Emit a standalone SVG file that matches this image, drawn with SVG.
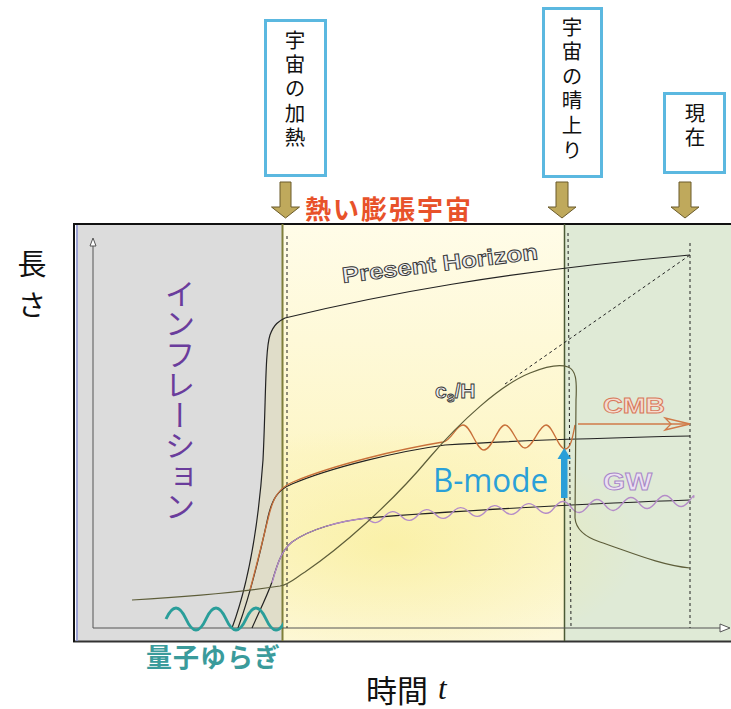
<svg xmlns="http://www.w3.org/2000/svg" width="731" height="709" viewBox="0 0 731 709">
<defs>
<style>
.box{fill:#fff;stroke:#5bb8e0;stroke-width:3}
.bt{font-family:"Noto Sans CJK JP",sans-serif;font-size:20.5px;fill:#111;writing-mode:vertical-rl}
.darr{fill:#bfa95c;stroke:#6b5b2a;stroke-width:1}
.curve{fill:none;stroke:#222;stroke-width:1.2}
.dash{fill:none;stroke:#222;stroke-width:1;stroke-dasharray:3 3}
.ol{font-family:"Liberation Sans",Arial,sans-serif;font-weight:bold;stroke-width:0.9}
.jp{font-family:"Noto Sans CJK JP",sans-serif}
</style>
<linearGradient id="yel" x1="0" y1="0" x2="0" y2="1">
<stop offset="0" stop-color="#fffce8"/>
<stop offset="0.55" stop-color="#fdf6c8"/>
<stop offset="1" stop-color="#fdf8da"/>
</linearGradient>
<radialGradient id="glow">
<stop offset="0" stop-color="#f7ea80" stop-opacity="0.5"/>
<stop offset="1" stop-color="#f7ea80" stop-opacity="0"/>
</radialGradient>
<clipPath id="rightclip"><rect x="283" y="225" width="448" height="416"/></clipPath>
<clipPath id="greyclip"><rect x="76" y="225" width="207" height="416"/></clipPath>
</defs>

<g id="background">
<rect x="76" y="225" width="206" height="416" fill="#dcdcdc"/>
<rect x="282" y="225" width="282" height="416" fill="url(#yel)"/>
<rect x="564" y="225" width="167" height="416" fill="#dfead6"/>
<ellipse cx="390" cy="545" rx="250" ry="120" fill="url(#glow)" clip-path="url(#rightclip)"/>
<path d="M232,628 C248,585 258,530 263,460 C266,400 265,350 270,335 C274,324 279,321 285,318 L285,628 Z" fill="#f2e58a" fill-opacity="0.22" clip-path="url(#greyclip)"/>
<line x1="73" y1="224" x2="731" y2="224" stroke="#111" stroke-width="2"/>
<line x1="73" y1="641.5" x2="731" y2="641.5" stroke="#333" stroke-width="2"/>
<line x1="74" y1="223" x2="74" y2="642" stroke="#111" stroke-width="2"/>
<line x1="77" y1="225" x2="77" y2="641" stroke="#8890d0" stroke-width="1.5"/>
<line x1="282.5" y1="224" x2="282.5" y2="641" stroke="#7f7f3a" stroke-width="2"/>
<line x1="564.5" y1="224" x2="564.5" y2="641" stroke="#4b5a35" stroke-width="1.5"/>
</g>

<g id="axes" fill="#fff" stroke="#555" stroke-width="1">
<line x1="93" y1="628" x2="93" y2="246"/>
<polygon points="93,238 96,246 90,246"/>
<line x1="93" y1="628" x2="721" y2="628"/>
<polygon points="730,628 720,624 720,632"/>
</g>

<g id="connectors">
<path class="dash" d="M287,236 V628"/>
<path class="dash" d="M568,233 L571,628"/>
<path class="dash" d="M690,243 V628"/>
<path class="dash" d="M505,384 L690,255"/>
<path class="curve" d="M232,628 C248,585 258,530 263,460 C266,400 265,350 270,335 C274,324 279,321 285,318 C380,295 500,272 690,255"/>
<path class="curve" d="M238,628 C250,595 262,545 268,517 C272,500 277,490 292,484 C332,467 400,451 445,445 C520,440 600,438 690,436"/>
<path fill="none" stroke="#c8703a" stroke-width="1.3" d="M250,590 C258,560 264,535 269,515 C273,499 278,488 293,482 C333,465 400,449 443,442 C452,440 456,425 463,425 C471,425 476,450 484,450 C492,450 498,425 505,425 C512,425 518,448 525,448 C533,448 539,425 546,425 C553,425 558,449 565,449 C571,449 573,435 575,425"/>
<g id="cmb-arrow" fill="none" stroke="#d07a48" stroke-width="1.3">
<line x1="578" y1="424" x2="688" y2="424"/>
<polygon points="690,424 665,418 671,424 665,430"/>
</g>
<path class="curve" d="M252,628 C260,610 267,596 272,582 C277,565 281,551 292,542 C310,529 340,521 367,518 C450,511 600,503 690,500"/>
<path fill="none" stroke="#b48cc8" stroke-width="1.3" d="M272,583 C277,565 281,551 292,542 C310,529 340,521 367,518 C373,524.5 378,524 384,517 S395,510 401,516 S412,522 418,515 S429,508 435,514 S446,520 452,513 S463,506 469,512 S480,518 486,511 S497,504 503,510 S514,516 520,509 S531,502 537,508 S548,516 554,508 S565,499 571,507 S582,514 588,506 S599,497 605,505 S616,512 622,504 S633,495 639,503 S650,510 656,502 S667,493 673,501 S684,508 690,500 S693,497 694,498"/>
<path fill="none" stroke="#5e5e3a" stroke-width="1.2" d="M132,600 C200,596 255,590 280,586 C290,584 295,578 305,572 C340,548 390,505 430,457 C460,422 500,385 530,373 C545,367 560,364 568,367 C576,370 577,380 576,400 L575,518 C576,530 585,537 600,542 C630,552 660,565 690,568"/>
<path fill="none" stroke="#2a9e9a" stroke-width="3" clip-path="url(#greyclip)" d="M166,619 C172.7,604.3 179.3,604.3 186,619 S199.3,633.7 206,619 S219.3,604.3 226,619 S239.3,633.7 246,619 S259.3,604.3 266,619 S279.3,633.7 286,619"/>
<g id="bmode-arrow" fill="#2a9fd8">
<rect x="561" y="456" width="6.5" height="42"/>
<polygon points="564.2,448 571,459 557.5,459"/>
</g>
<g id="event-arrows" class="darr">
<polygon points="280,182 291,182 291,207 299.5,207 285.5,218 271.5,207 280,207"/>
<polygon points="556,182 568,182 568,207 576,207 562,218 548,207 556,207"/>
<polygon points="679,182 691,182 691,207 699,207 685,218 671,207 679,207"/>
</g>
</g>

<g id="box-heating">
<rect class="box" x="265.5" y="20.5" width="60" height="155"/>
<text class="bt" x="295" y="29.5" letter-spacing="3.9">宇宙の加熱</text>
</g>
<g id="box-recombination">
<rect class="box" x="543.5" y="8.5" width="58" height="168"/>
<text class="bt" x="572" y="16.5" letter-spacing="4.1">宇宙の晴上り</text>
</g>
<g id="box-present">
<rect class="box" x="664.5" y="93.5" width="60" height="79"/>
<text class="bt" x="695" y="102.5" letter-spacing="3.5">現在</text>
</g>

<g id="labels">
<text class="jp" x="305" y="207" font-size="26" font-weight="bold" fill="#e8522a" letter-spacing="2" dominant-baseline="central">熱い膨張宇宙</text>
<text class="jp" x="32" y="249" font-size="29" fill="#111" letter-spacing="12" style="writing-mode:vertical-rl">長さ</text>
<text class="jp" x="366" y="688" font-size="31" fill="#111" dominant-baseline="central">時間<tspan font-family="Liberation Serif,serif" font-style="italic" dx="10">t</tspan></text>
<text class="jp" x="146" y="655" font-size="26" font-weight="bold" fill="#3a9b9b" letter-spacing="1" dominant-baseline="central">量子ゆらぎ</text>
<text class="jp" x="180" y="278" font-size="30.5" fill="#6a3c9c" style="writing-mode:vertical-rl">インフレーション</text>
<text class="ol" x="343" y="283" font-size="22" fill="#eeeeee" stroke="#333" textLength="197" lengthAdjust="spacingAndGlyphs" transform="rotate(-7 343 283)">Present Horizon</text>
<text class="ol" x="435" y="398" font-size="21" fill="#eeeeee" stroke="#333">c<tspan font-size="14" dy="4">s</tspan><tspan dy="-4">/H</tspan></text>
<text class="ol" x="603" y="413" font-size="22" fill="#f5ddd0" stroke="#d8785a" textLength="62" lengthAdjust="spacingAndGlyphs">CMB</text>
<text class="ol" x="603" y="490" font-size="23" fill="#ece0f2" stroke="#a888c8" textLength="49" lengthAdjust="spacingAndGlyphs">GW</text>
<text x="433" y="492" font-family="Open Sans,sans-serif" font-size="33" fill="#2aa0d8" textLength="115" lengthAdjust="spacingAndGlyphs">B-mode</text>
</g>
</svg>
